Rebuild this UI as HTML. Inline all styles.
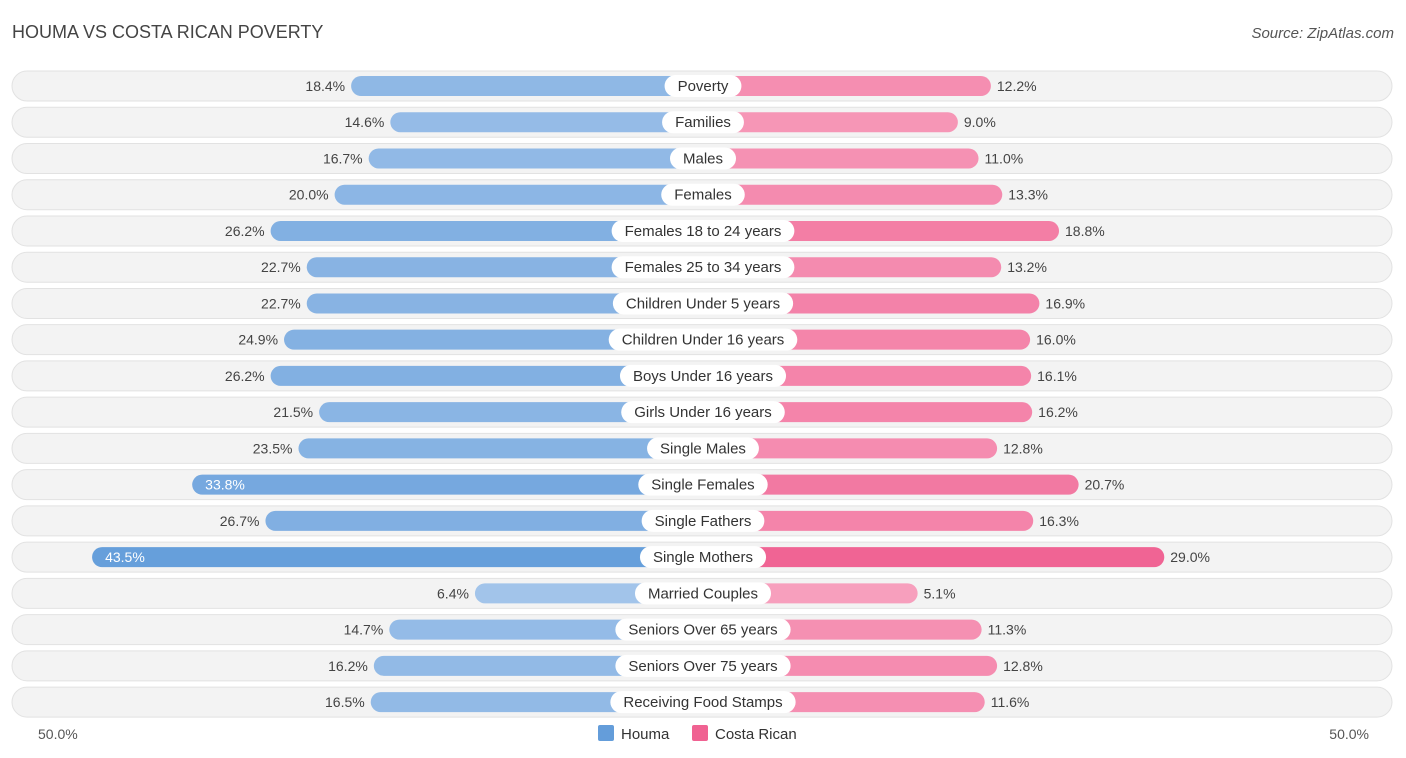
<!DOCTYPE html>
<html><head><meta charset="utf-8"><style>
body{margin:0;width:1406px;height:758px;background:#fff;font-family:"Liberation Sans",sans-serif;position:relative;overflow:hidden}
.t{position:absolute;white-space:nowrap}
</style></head><body>
<div class="t" style="left:12px;top:22px;font-size:18px;color:#444">HOUMA VS COSTA RICAN POVERTY</div>
<div class="t" style="right:12px;top:25px;font-size:15px;color:#555;font-style:italic">Source: ZipAtlas.com</div>
<svg id="c" width="1406" height="758" style="position:absolute;left:0;top:0"></svg>
<script>
const categories=["Poverty","Families","Males","Females","Females 18 to 24 years","Females 25 to 34 years","Children Under 5 years","Children Under 16 years","Boys Under 16 years","Girls Under 16 years","Single Males","Single Females","Single Fathers","Single Mothers","Married Couples","Seniors Over 65 years","Seniors Over 75 years","Receiving Food Stamps"];
const houma=[18.4,14.6,16.7,20.0,26.2,22.7,22.7,24.9,26.2,21.5,23.5,33.8,26.7,43.5,6.4,14.7,16.2,16.5];
const costaRican=[12.2,9.0,11.0,13.3,18.8,13.2,16.9,16.0,16.1,16.2,12.8,20.7,16.3,29.0,5.1,11.3,12.8,11.6];
const axisLabels=["50.0%","50.0%"];
const NS="http://www.w3.org/2000/svg",svg=document.getElementById('c');
const cx=703,y0=86,step=36.24;
function w(v){return 162+10.32*v;}
function yc(i){return y0+i*step;}
function mk(t,a){const e=document.createElementNS(NS,t);for(const k in a)e.setAttribute(k,a[k]);svg.appendChild(e);return e;}
function mix(c1,c2,f){return 'rgb('+c1.map((x,i)=>Math.round(x+(c2[i]-x)*f)).join(',')+')';}
categories.forEach((cat,i)=>{
  const y=yc(i);
  const bg=mk('rect',{x:12,y:y-15,width:1380,height:30,rx:15,fill:'#f3f3f3',stroke:'#e2e2e2'});
  
  const hv=houma[i],cv=costaRican[i];
  const fb=Math.min(1,hv/45),fp=Math.min(1,cv/30);
  const hb=mk('rect',{x:cx-w(hv),y:y-10,width:w(hv),height:20,rx:10,fill:mix([172,202,237],[100,157,218],fb)});
  
  const pb=mk('rect',{x:cx,y:y-10,width:w(cv),height:20,rx:10,fill:mix([248,172,198],[240,98,146],fp)});
  
  const inside=hv>30;
  const ht=mk('text',{x:inside?cx-w(hv)+13:cx-w(hv)-6,y:y+5,'font-size':14,fill:inside?'#fff':'#444','text-anchor':inside?'start':'end'});
  ht.textContent=hv.toFixed(1)+'%';
  
  const pt=mk('text',{x:cx+w(cv)+6,y:y+5,'font-size':14,fill:'#444'});
  pt.textContent=cv.toFixed(1)+'%';
  
  const lt=mk('text',{x:cx,y:y+5,'font-size':15,fill:'#333','text-anchor':'middle'});
  lt.textContent=cat;
  const lw=lt.getComputedTextLength()+26;
  const lb=mk('rect',{x:cx-lw/2,y:y-11,width:lw,height:22,rx:11,fill:'#fff'});
  
  svg.appendChild(lt);
  
});
const a1=mk('text',{x:38,y:739,'font-size':14,fill:'#555'});a1.textContent=axisLabels[0];

const a2=mk('text',{x:1369,y:739,'font-size':14,fill:'#555','text-anchor':'end'});a2.textContent=axisLabels[1];

const s1=mk('rect',{x:598,y:725,width:16,height:16,rx:2,fill:'#649dda'});

const l1=mk('text',{x:621,y:739,'font-size':15,fill:'#333'});l1.textContent='Houma';

const s2=mk('rect',{x:692,y:725,width:16,height:16,rx:2,fill:'#f06292'});

const l2=mk('text',{x:715,y:739,'font-size':15,fill:'#333'});l2.textContent='Costa Rican';

</script>
</body></html>
